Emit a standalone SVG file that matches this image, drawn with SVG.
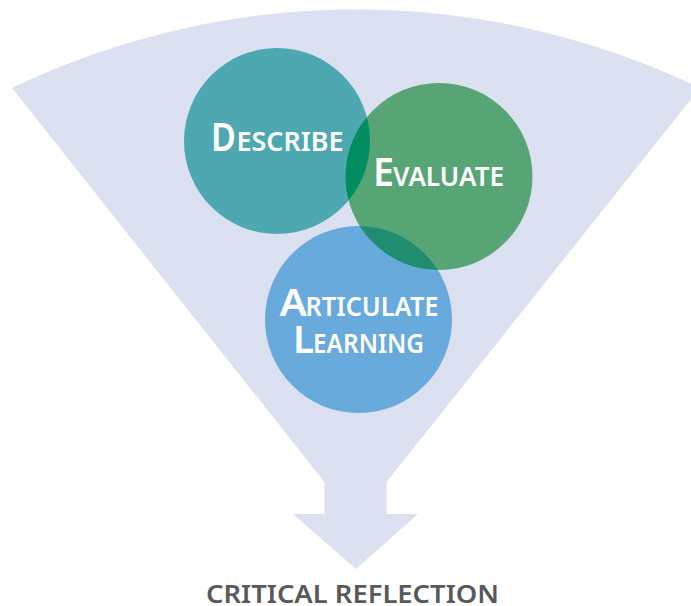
<svg xmlns="http://www.w3.org/2000/svg" width="691" height="606" viewBox="0 0 691 606">
<style>
.lbl{font-family:"Noto Sans","Open Sans","Liberation Sans",sans-serif;font-weight:600;fill:#ffffff}
.big{font-size:39px}
.sm{font-size:27px}
.cap{font-family:"Noto Sans","Open Sans","Liberation Sans",sans-serif;font-weight:600;font-size:25px;fill:#58595B}
</style>
<defs>
<clipPath id="clipEval"><circle cx="439" cy="176.5" r="93.5"/></clipPath>
</defs>
<rect width="691" height="606" fill="#ffffff"/>
<g id="funnel">
<path d="M12,88 A793,793 0 0,1 700,88 L386.5,482 L386.5,514 L418,514 L356,569 L293,514 L324.5,514 L324.5,482 Z" fill="#DCE1F2"/>
</g>
<g id="describe">
<circle cx="277" cy="141" r="93" fill="#4EA8B1"/>
</g>
<g id="evaluate">
<circle cx="439" cy="176.5" r="93.5" fill="#57A574"/>
</g>
<g id="articulate">
<circle cx="358.5" cy="319.5" r="93.5" fill="#68AADC"/>
</g>
<g id="overlaps" clip-path="url(#clipEval)">
<circle cx="277" cy="141" r="93" fill="#008D5F"/>
<circle cx="358.5" cy="319.5" r="93.5" fill="#208D70"/>
</g>
<g id="labels">
<text class="lbl big" x="211" y="151" textLength="25" lengthAdjust="spacingAndGlyphs">D</text>
<text class="lbl sm" x="236.5" y="151" textLength="107" lengthAdjust="spacingAndGlyphs">ESCRIBE</text>
<text class="lbl big" x="373" y="186" textLength="21" lengthAdjust="spacingAndGlyphs">E</text>
<text class="lbl sm" x="393" y="186" textLength="111" lengthAdjust="spacingAndGlyphs">VALUATE</text>
<text class="lbl big" x="279.5" y="316" textLength="27.5" lengthAdjust="spacingAndGlyphs" style="font-size:37.5px">A</text>
<text class="lbl sm" x="305.5" y="316" textLength="133" lengthAdjust="spacingAndGlyphs">RTICULATE</text>
<text class="lbl big" x="293" y="353" textLength="21" lengthAdjust="spacingAndGlyphs" style="font-size:37.5px">L</text>
<text class="lbl sm" x="313" y="353" textLength="111" lengthAdjust="spacingAndGlyphs">EARNING</text>
</g>
<g id="critical-reflection">
<text class="cap" x="206" y="603" textLength="293" lengthAdjust="spacingAndGlyphs">CRITICAL REFLECTION</text>
</g>
</svg>
